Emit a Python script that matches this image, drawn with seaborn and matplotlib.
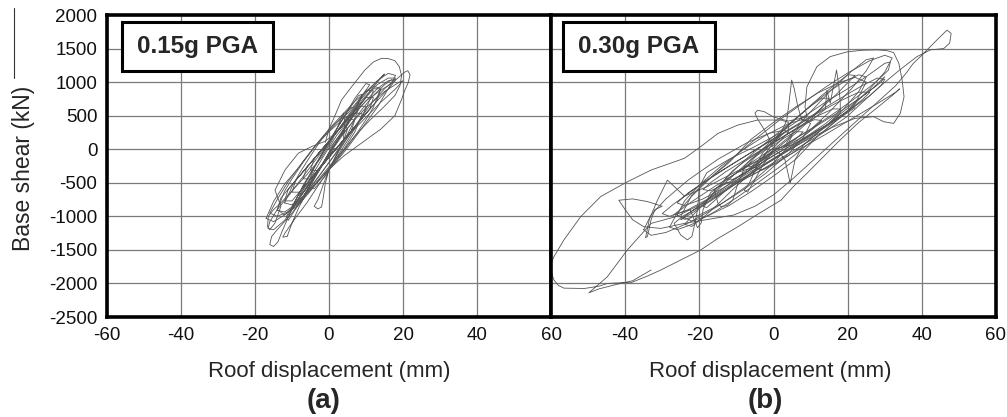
import matplotlib.pyplot as plt
import seaborn as sns
from matplotlib.patches import Rectangle
from matplotlib.lines import Line2D

# ---- panel (a) 0.15g PGA : roof displacement (mm) vs base shear (kN), traced by eye
a1_x = [0, 2, 4, 5, 4, 1, -2, -4, -5, -3, 0, 3, 6, 7, 5, 2, -1, -4, -6, -7, -5, -2, 1, 4, 7, 9, 10,
        8, 5, 2, -1, -4, -7, -9, -10, -8, -5, -2, 1, 4, 8, 11, 12, 10, 6, 2, -2, -6, -9, -11, -12,
        -10, -6, -2, 2, 6, 10, 13, 14, 12, 8, 4, 0, -4, -8, -11, -13, -14]
a1_y = [0, 10, 140, 300, 370, 190, -10, -140, -310, -320, -120, 75, 270, 440, 440, 250, 55, -140,
        -270, -440, -445, -250, -55, 140, 335, 465, 640, 640, 445, 250, 55, -140, -335, -465, -640,
        -640, -445, -250, -55, 140, 400, 595, 770, 770, 510, 250, -10, -270, -465, -595, -770,
        -770, -510, -250, 10, 270, 530, 725, 900, 900, 640, 380, 120, -140, -400, -595, -725, -900]

a2_x = [-14, -12, -9, -6, -3, 0, 3, 6, 9, 12, 15, 17, 18, 16, 13, 10, 7, 4, 1, -2, -5, -8, -11,
        -14, -16, -16.5, -15, -12, -9, -6, -3, 0, 3, 6, 9, 12, 15, 17]
a2_y = [-900, -980, -860, -640, -420, -200, 20, 260, 500, 720, 900, 1000, 1060, 1060, 960, 800,
        600, 400, 180, -40, -260, -480, -700, -900, -1080, -1180, -1200, -1060, -820, -560, -320,
        -80, 160, 380, 600, 800, 960, 1040]

a3_x = [0, 3, 6, 8, 9, 8, 5, 2, -1, -4, -7, -9, -10, -9, -6, -3, 0, 3, 6, 8.5, 10, 11, 10, 7, 4,
        1, -2, -5, -8, -10, -11.5, -11, -8, -5, -2, 1]
a3_y = [0, 220, 480, 700, 820, 800, 560, 300, 20, -260, -540, -760, -860, -880, -620, -340, -60,
        200, 470, 740, 880, 960, 980, 760, 480, 200, -80, -380, -650, -860, -1000, -1060, -800,
        -520, -240, 50]

a4_x = [-1, 0, 1.6, 3.4, 6.1, 9.7, 12, 14.2, 16, 17.8, 19, 19.6, 19.2, 17.8, 15, 11, 7, 3,
        -1, -5, -9, -12, -14, -15.5, -16, -15, -13.8, -12.5, -10.5, -8, -5, -2,
        2, 6, 10, 14, 17, 19, 20.5, 21.3, 21.9, 21.4, 20.5, 19.6, 17.8, 14, 9, 4,
        0, -3, -6, -9, -11.9, -12.5, -11.3, -10, -8, -5, -2]
a4_y = [100, 300, 500, 735, 930, 1180, 1300, 1355, 1350, 1320, 1230, 1100, 950, 800, 640, 430,
        200, -80, -350, -620, -880, -1080, -1200, -1300, -1420, -1450, -1380, -1200, -950, -700,
        -430, -150, 200, 480, 720, 880, 980, 1080, 1150, 1170, 1110, 990, 880, 740, 500, 300, 100,
        -100, -300, -550, -800, -1020, -1250, -1310, -1300, -1100, -850, -540, -260]

a5_x = [1, 5, 9, 13, 16, 18, 17, 14, 10, 6, 3, 0, -1.5, -3, -4, -3, -2, -1.5, -1, 0,
        2, 3.9, 4.3, 3.9, 3, 1, -2, -6, -10, -13, -15, -16.4, -16.6, -16, -14.6, -13,
        -14.6, -11.9, -8.3, -4.7, -1, 2, 5, 8, 11, 13.5, 15, 14, 11, 8, 5, 2,
        -1, -4, -7, -9, -10, -8.5, -5, -2, 0, 3, 6, 10, 15, 19, 20, 18, 14, 9, 4,
        0, -3, -6, -8, -7, -4, -1, 1]
a5_y = [60, 380, 660, 900, 1020, 1040, 960, 780, 540, 260, 0, -300, -520, -750, -850, -890, -860,
        -700, -510, -300, -80, 150, 400, 540, 420, 150, -120, -380, -620, -800, -900, -1000,
        -1150, -1200, -1100, -850, -610, -310, -60, 40, 120, 250, 470, 700, 900, 1040, 1120,
        1060, 860, 620, 360, 100, -150, -400, -650, -800, -830, -760, -500, -250, -50, 180, 380,
        620, 860, 1000, 1020, 900, 700, 420, 140, -100, -300, -520, -680, -650, -420, -180, -20]

a6_x = [-14, -12, -10, -7, -3, 0, 3, 7, 10, 12, 14, 12, 10, 7, 3, 0, -3, -7, -10, -12, -14]
a6_y = [-910, -935, -860, -715, -480, -300, -95, 195, 440, 625, 910, 935, 860, 715, 480, 300,
        100, -195, -440, -625, -910]

a7_x = [-16, -14, -11, -7, -3, 1, 5, 9, 13, 16, 18, 16, 13, 9, 5, 1, -3, -7, -11, -14, -16]
a7_y = [-950, -1000, -930, -740, -480, -250, 20, 320, 620, 900, 1100, 1130, 1020, 800, 530, 350,
        100, -180, -480, -750, -950]

a8_x = [-12, -10, -7, -4, -2, 1, 4, 6, 8, 6, 4, 1, -2, -5, -8, -10, -12]
a8_y = [-800, -830, -700, -500, -350, -120, 120, 330, 600, 620, 520, 330, 150, -100, -360, -560,
        -800]

a9_x = [-6, -4, -1, 2, 5, 8, 10, 12, 10, 8, 5, 2, -1, -4, -6]
a9_y = [-570, -590, -400, -130, 130, 400, 600, 870, 880, 720, 490, 250, 0, -270, -570]

a10_x = [-17, -15, -12, -8, -4, 0, 4, 7, 9, 7, 4, 0, -4, -8, -12, -15, -17]
a10_y = [-1030, -1080, -980, -760, -530, -260, 0, 260, 530, 540, 460, 260, 30, -260, -520, -780,
         -1030]

# ---- panel (b) 0.30g PGA
b1_x = [0, 3, 6, 8, 6, 3, 0, -3, -6, -8, -6, -3, 0, 4, 8, 11, 13, 11, 8, 4, 0, -4, -8, -11, -13,
        -11, -8, -4, 0, 5, 10, 14, 17, 18, 16, 12, 7, 2, -3, -8, -13, -17, -19, -17, -13, -8, -3, 2]
b1_y = [0, 40, 150, 260, 260, 170, 60, -40, -150, -260, -260, -170, -60, 60, 190, 320, 430, 440,
        360, 230, 90, -50, -190, -320, -440, -450, -360, -230, -90, 60, 230, 380, 520, 600, 600,
        500, 340, 170, 0, -170, -340, -500, -600, -620, -520, -370, -200, -30]

b2_x = [2, 8, 14, 20, 24, 26, 23, 18, 12, 6, 0, -6, -12, -18, -23, -26, -24, -19, -13, -7, -1, 5,
        11, 17, 22, 26, 29, 30, 28, 24, 19, 13, 7, 1, -5, -11, -17, -22, -27, -30, -28, -23, -17,
        -11, -5, 1, 7, 13, 18, 22]
b2_y = [-30, 150, 350, 570, 740, 850, 850, 720, 540, 340, 150, -50, -250, -460, -650, -800, -840,
        -740, -560, -360, -170, 30, 240, 450, 640, 800, 950, 1040, 1060, 950, 790, 590, 390, 190,
        -10, -220, -430, -620, -820, -960, -1000, -900, -720, -520, -320, -120, 80, 290, 470, 620]

b3_x = [-10, -6, -2, 2, 6, 10, 13, 15, 13, 10, 6, 2, -2, -6, -10, -14, -17, -19, -18, -15, -11, -7,
        -3, 1, 5, 9, 13, 17, 20, 22, 20, 17, 13, 9, 5, 1, -3, -7, -11, -15, -19, -22, -24, -22,
        -19, -15, -11, -7, -3, 0]
b3_y = [-350, -280, -120, 60, 240, 440, 620, 760, 760, 640, 460, 280, 100, -80, -280, -500, -700,
        -850, -870, -720, -520, -330, -150, 40, 220, 420, 620, 820, 990, 1100, 1110, 980, 800, 600,
        400, 200, 0, -200, -400, -600, -820, -1000, -1120, -1150, -1020, -820, -600, -400, -200, -40]

b4_x = [0, 2.5, 3.6, 4.3, 4.9, 5.6, 6.5, 7.6, 10, 14, 14.4, 15, 15.3, 16.2, 17, 17.6, 18, 18, 15,
        10, 5, 0, -5, -10, -15, -20, -24, -25, -23, -18, -12, -6, 0, -2, -4.3, -5, -4.3, -2.5, 0,
        4, 9, 8.5, 9, 11.7, 15.3, 19.8, 24, 27.9, 30.5, 32.4, 33.8, 34.7, 35.2, 34.2, 32.4, 29.7,
        27, 22, 16, 10, 4, -2, -8, -14, -20, -24.5, -26.8, -25, -23.2, -22, -21.4, -20.5, -20,
        -18, -12, -5, 2, 8, 14, 20, 25, 28, 30, 31.5, 31, 28, 23, 17, 10, 3, -4, -11, -18, -24]
b4_y = [80, 300, 435, 750, 1030, 900, 650, 435, 420, 600, 880, 750, 685, 950, 1180, 950, 700, 535,
        380, 220, 40, -140, -330, -510, -700, -880, -1020, -1050, -960, -760, -520, -260, 20, 250,
        450, 540, 580, 560, 480, 420, 480, 630, 930, 1230, 1380, 1450, 1475, 1480, 1470, 1440,
        1280, 1030, 780, 535, 385, 410, 485, 460, 330, 170, -20, -220, -430, -650, -860, -1000,
        -1105, -1280, -1350, -1300, -1155, -905, -560, -350, -150, 40, 250, 480, 700, 900, 1080,
        1200, 1280, 1300, 1180, 1020, 800, 560, 300, 60, -160, -360, -560, -700]

b5_x = [-24, -28.6, -31.3, -33.5, -34.5, -34, -33, -32, -30, -34, -38, -41.7, -40, -38, -35, -30.4,
        -24, -17, -10.7, -5, 0, 5, 10, 15, 20, 25, 30, 33, 36, 37.7, 40, 42.3, 45, 46.8, 47.9,
        47.5, 45.9, 42.3, 38.7, 34, 29, 24, 19.8, 15, 9, 3, -3, -9, -13, -16, -15, -14.2, -12.5,
        -11, -9.6, -8, -4, 0, 3, 0, -4, -6.5, -7.9, -7, -5.5, -3, 0, 2, 3.1, 4.5, 5.8, 8, 12, 17,
        22, 27, 30, 29, 25, 19, 12, 5, -2, -9, -16, -22, -27, -22.5, -21, -20.5, -19.5, -19, -17,
        -12, -6, 0]
b5_y = [-700, -460, -760, -1050, -1320, -1300, -1050, -900, -850, -780, -740, -760, -900, -1050,
        -1155, -1180, -1105, -1040, -980, -850, -680, -450, -200, 50, 300, 550, 800, 950, 1150,
        1280, 1400, 1530, 1680, 1775, 1725, 1580, 1500, 1480, 1380, 1180, 950, 700, 485, 300, 100,
        -100, -300, -480, -500, -600, -800, -855, -840, -760, -510, -300, -60, 120, 250, 100, -200,
        -500, -610, -640, -500, -250, 0, -80, -160, -505, -160, 60, 250, 480, 700, 920, 1080, 1000,
        830, 600, 360, 130, -100, -320, -560, -780, -980, -900, -1100, -1170, -1100, -900, -650,
        -430, -200, 20]

b6_x = [0, 4, 4, 2, -4.3, -9.6, -15, -19.6, -24, -33, -39.4, -46.6, -52, -56.5, -59.2, -60, -59.8,
        -59.2, -58, -56.5, -51, -47, -44.8, -41, -38.5, -34, -30.4, -25, -19.6, -15, -9.6, -4, 2,
        5.3, 9, 12.6, 18, 23, 28, 32, 34, 33, 28, 21, 14, 7, 0, -7, -14, -20, -26, -33, -39.4,
        -44.8, -49.8, -47, -42, -38, -33]
b6_y = [20, 250, 400, 435, 435, 360, 235, 40, -135, -310, -485, -705, -1005, -1350, -1600, -1700,
        -1850, -1950, -2030, -2070, -2075, -2040, -2000, -1990, -1990, -1890, -1800, -1650, -1500,
        -1330, -1155, -960, -760, -560, -360, -160, 140, 400, 620, 800, 900, 850, 680, 450, 220, 0,
        -220, -420, -640, -830, -1000, -1105, -1500, -1900, -2140, -2080, -2010, -1960, -1800]

b7_x = [-25, -22, -18, -12, -6, 0, 6, 12, 18, 22, 25, 22, 18, 12, 6, 0, -6, -12, -18, -22, -25]
b7_y = [-1000, -1070, -1000, -840, -630, -400, -150, 200, 470, 680, 1000, 1070, 1000, 840, 630,
        400, 150, -200, -470, -680, -1000]

b8_x = [-28, -26, -22, -16, -10, -4, 2, 8, 14, 20, 26, 30, 32, 30, 26, 20, 14, 8, 2, -4, -10, -16,
        -22, -26, -28]
b8_y = [-1160, -1200, -1120, -936, -724, -490, -250, 15, 284, 576, 900, 1150, 1360, 1400, 1320,
        1136, 924, 690, 450, 190, -84, -376, -698, -950, -1160]

b9_x = [-26, -24, -20, -14, -8, -2, 4, 8, 10, 8, 4, -2, -8, -14, -20, -24, -26]
b9_y = [-984, -1045, -980, -811, -600, -355, -68, 171, 384, 445, 380, 211, 0, -245, -532, -771,
        -984]

b10_x = [-5, -3, 1, 5, 10, 15, 19, 23, 25, 23, 19, 15, 10, 5, 1, -3, -5]
b10_y = [-275, -310, -205, -61, 150, 389, 605, 860, 1075, 1110, 1005, 861, 650, 411, 195, -60,
         -275]

b11_x = [-35, -33, -29, -23, -15, -7, -1, 3, 5, 3, -1, -7, -15, -23, -29, -33, -35]
b11_y = [-1200, -1283, -1240, -1101, -850, -541, -260, -23, 200, 283, 240, 101, -150, -459, -740,
         -977, -1200]

b12_x = [3, 5, 9, 15, 21, 25, 27, 25, 21, 15, 9, 5, 3]
b12_y = [40, 67, 240, 550, 900, 1167, 1360, 1333, 1160, 850, 500, 233, 40]

a_segments = [(a1_x, a1_y), (a2_x, a2_y), (a3_x, a3_y), (a4_x, a4_y), (a5_x, a5_y),
              (a6_x, a6_y), (a7_x, a7_y), (a8_x, a8_y), (a9_x, a9_y), (a10_x, a10_y)]
b_segments = [(b1_x, b1_y), (b2_x, b2_y), (b3_x, b3_y), (b4_x, b4_y), (b5_x, b5_y),
              (b6_x, b6_y), (b7_x, b7_y), (b8_x, b8_y), (b9_x, b9_y), (b10_x, b10_y),
              (b11_x, b11_y), (b12_x, b12_y)]
x_ticks = [-60, -40, -20, 0, 20, 40, 60]
y_ticks = [-2500, -2000, -1500, -1000, -500, 0, 500, 1000, 1500, 2000]

sns.set_style('white')
plt.rcParams['font.family'] = ['Liberation Sans', 'DejaVu Sans']
plt.rcParams['axes.unicode_minus'] = False

fig = plt.figure(figsize=(10.07, 4.17), dpi=100)
ax_a = fig.add_axes([107 / 1007, 100 / 417, 444 / 1007, 302 / 417])
ax_b = fig.add_axes([551 / 1007, 100 / 417, 445 / 1007, 302 / 417])

panels = [(ax_a, a_segments, '0.15g PGA', 0.034, 0.340),
          (ax_b, b_segments, '0.30g PGA', 0.027, 0.342)]

for ax, segs, tag, bx, bw in panels:
    for xs, ys in segs:
        sns.lineplot(x=xs, y=ys, ax=ax, sort=False, estimator=None,
                     color='#555555', linewidth=0.6)
    ax.set_xlim(-60, 60)
    ax.set_ylim(-2500, 2000)
    ax.set_xticks(x_ticks)
    ax.set_yticks(y_ticks)
    ax.grid(True, color='#7a7a7a', linewidth=0.9)
    ax.set_axisbelow(True)
    for sp in ax.spines.values():
        sp.set_linewidth(2.6)
        sp.set_color('black')
    ax.tick_params(length=0, labelsize=13.5, pad=7, colors='#111111')
    ax.set_xlabel('')
    ax.set_ylabel('')
    ax.add_patch(Rectangle((bx, 0.815), bw, 0.162, transform=ax.transAxes,
                           facecolor='white', edgecolor='black', linewidth=2.2,
                           zorder=5))
    ax.text(bx + bw / 2, 0.895, tag, transform=ax.transAxes, ha='center',
            va='center', fontsize=17.5, fontweight='bold', zorder=6)

ax_b.tick_params(labelleft=False)
ax_b.set_xticklabels([''] + [str(t) for t in x_ticks[1:]])

fig.text(24 / 1007, 1 - 168 / 417, 'Base shear (kN)', rotation=90,
         ha='center', va='center', fontsize=16.5)
fig.add_artist(Line2D([14 / 1007, 14 / 1007], [1 - 8 / 417, 1 - 78 / 417],
                      color='#333333', linewidth=0.8))

for cx, letter in [(329, '(a)'), (770, '(b)')]:
    fig.text(cx / 1007, 1 - 371 / 417, 'Roof displacement (mm)',
             ha='center', va='center', fontsize=16)
    fig.text((cx - 5) / 1007, 1 - 401 / 417, letter, ha='center',
             va='center', fontsize=20, fontweight='bold')

fig.savefig('out.png', dpi=100)
